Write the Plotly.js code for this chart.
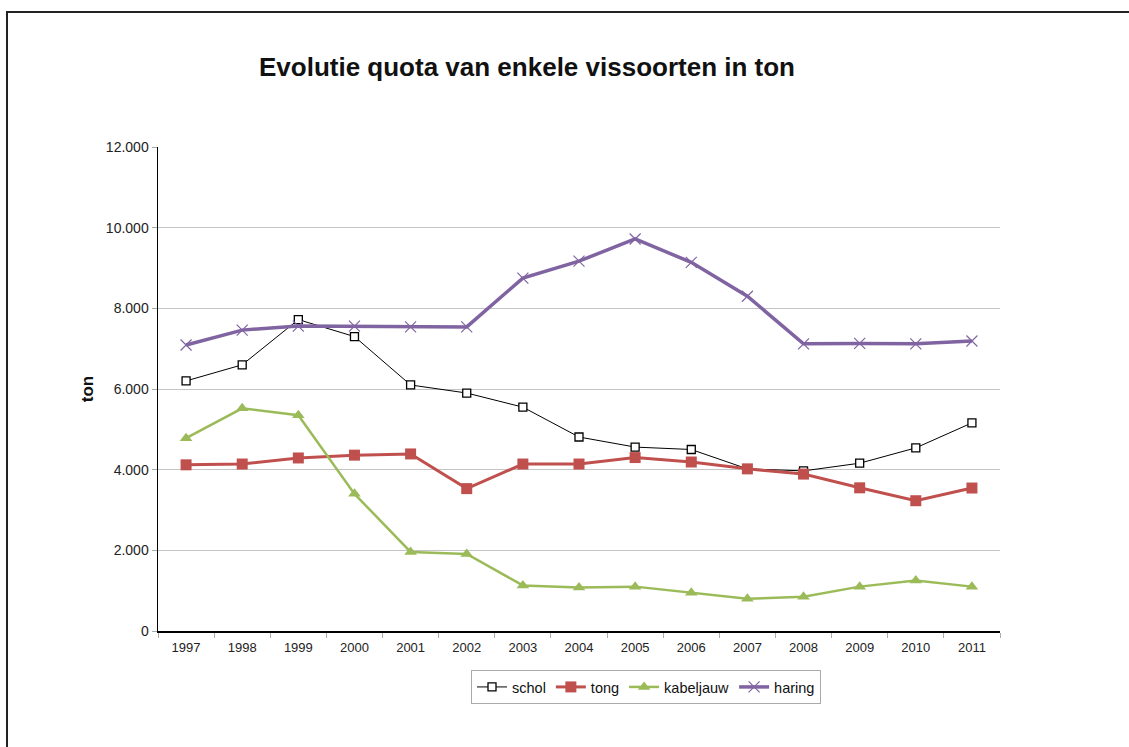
<!DOCTYPE html>
<html>
<head>
<meta charset="utf-8">
<script src="https://cdn.plot.ly/plotly-3.0.1.min.js"></script>
<style>
html,body{margin:0;padding:0;background:#fff;}
#chart{width:1129px;height:747px;}
#frame{position:absolute;left:6px;top:11px;width:1130px;height:740px;border-top:2px solid #222;border-left:2px solid #222;pointer-events:none;}
</style>
</head>
<body>
<div id="chart"></div>
<div id="frame"></div>
<script>
const years = ['1997','1998','1999','2000','2001','2002','2003','2004','2005','2006','2007','2008','2009','2010','2011'];
const schol = [6200, 6600, 7720, 7300, 6100, 5900, 5550, 4810, 4560, 4500, 4020, 3970, 4160, 4540, 5160];
const tong = [4120, 4140, 4290, 4360, 4390, 3530, 4140, 4140, 4300, 4190, 4020, 3890, 3550, 3230, 3545];
const kabeljauw = [4780, 5520, 5350, 3400, 1960, 1910, 1130, 1080, 1100, 950, 800, 850, 1100, 1250, 1100];
const haring = [7090, 7460, 7560, 7560, 7540, 7540, 8750, 9170, 9720, 9140, 8300, 7120, 7130, 7120, 7190];

const traces = [
  {x: years, y: schol, name: 'schol', type: 'scatter', mode: 'lines+markers',
   line: {color: '#000000', width: 1},
   marker: {symbol: 'square', size: 8, color: '#ffffff', line: {color: '#000000', width: 1.3}}},
  {x: years, y: tong, name: 'tong', type: 'scatter', mode: 'lines+markers',
   line: {color: '#C0504D', width: 3},
   marker: {symbol: 'square', size: 11, color: '#C0504D'}},
  {x: years, y: kabeljauw, name: 'kabeljauw', type: 'scatter', mode: 'lines+markers',
   line: {color: '#9BBB59', width: 2.5},
   marker: {symbol: 'triangle-up', size: 11, color: '#9BBB59'}},
  {x: years, y: haring, name: 'haring', type: 'scatter', mode: 'lines+markers',
   line: {color: '#8064A2', width: 3.5},
   marker: {symbol: 'x-thin', size: 11, color: '#8064A2', line: {color: '#8064A2', width: 1.2}}}
];

const layout = {
  width: 1129, height: 747,
  paper_bgcolor: '#ffffff', plot_bgcolor: '#ffffff',
  separators: ',.',
  margin: {l: 158, r: 129, t: 147, b: 116},
  font: {family: 'Arial, Liberation Sans, sans-serif', color: '#222'},
  title: {text: '<b>Evolutie quota van enkele vissoorten in ton</b>',
          font: {size: 26, color: '#111', family: 'Arial, Liberation Sans, sans-serif'},
          x: 527/1129, xanchor: 'center', xref: 'container', y: 1 - 67/747, yanchor: 'middle', yref: 'container'},
  xaxis: {type: 'category', range: [-0.5, 14.5], showgrid: false,
          showline: true, linecolor: '#000', linewidth: 1.5,
          ticks: 'outside', tickson: 'boundaries', ticklen: 5, tickcolor: '#aaa',
          ticklabelstandoff: 4,
          tickfont: {size: 13, color: '#222'}},
  yaxis: {range: [0, 12000], dtick: 2000, tickformat: ',d',
          showgrid: true, gridcolor: '#c4c4c4', gridwidth: 1,
          showline: true, linecolor: '#000', linewidth: 1.5,
          ticks: 'outside', ticklen: 5, tickcolor: '#aaa',
          tickfont: {size: 14, color: '#222'}, zeroline: false,
          title: {text: '<b>ton</b>', font: {size: 17, color: '#111'}, standoff: 8}},
  showlegend: true,
  legend: {orientation: 'h', x: (646-158)/842, xanchor: 'center', y: -56/484, yanchor: 'middle',
           bordercolor: '#aaa', borderwidth: 1, bgcolor: '#fff',
           font: {size: 14.5, color: '#111'}, itemwidth: 30, tracegroupgap: 0}
};

Plotly.newPlot('chart', traces, layout, {displayModeBar: false, staticPlot: true});
</script>
</body>
</html>
